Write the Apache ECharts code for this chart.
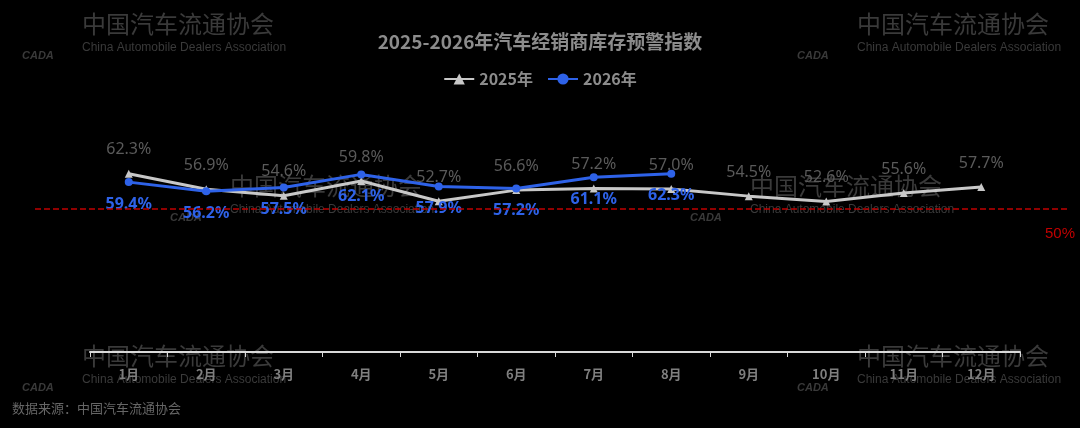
<!DOCTYPE html>
<html><head><meta charset="utf-8">
<script src="https://cdn.jsdelivr.net/npm/echarts@6/dist/echarts.min.js"></script>
<style>html,body{margin:0;background:#000}#c{width:1080px;height:428px}</style>
</head><body><div id="c"></div>
<script>
const categories=['1月','2月','3月','4月','5月','6月','7月','8月','9月','10月','11月','12月'];
const values2025=[62.3,56.9,54.6,59.8,52.7,56.6,57.2,57.0,54.5,52.6,55.6,57.7];
const values2026=[59.4,56.2,57.5,62.1,57.9,57.2,61.1,62.3];
const warnLine=50;
const wmSpots=[[22,8],[797,8],[690,170],[170,170],[22,340],[797,340]];
const graphics=[];
wmSpots.forEach(p=>{
  graphics.push({type:'text',left:p[0]+60,top:p[1]+4,z:-1,style:{text:'中国汽车流通协会',fill:'#3a3a3a',font:'24px "Noto Sans CJK SC"'}});
  graphics.push({type:'text',left:p[0]+60,top:p[1]+34,z:-1,style:{text:'China Automobile Dealers Association',fill:'#3a3a3a',font:'12px "Liberation Sans"'}});
  graphics.push({type:'text',left:p[0],top:p[1]+42,z:-1,style:{text:'CADA',fill:'#3a3a3a',font:'italic bold 11px "Liberation Sans"'}});
});
graphics.push({type:'text',left:12,top:402,style:{text:'数据来源：中国汽车流通协会',fill:'#666',font:'13px "Noto Sans CJK SC"'}});
const chart=echarts.init(document.getElementById('c'));
chart.setOption({
  backgroundColor:'#000',
  title:{text:'2025-2026年汽车经销商库存预警指数',left:'center',top:27,textStyle:{color:'#8c8c8c',fontSize:19,fontWeight:'bold',fontFamily:'Noto Sans CJK SC'}},
  legend:{top:66,left:'center',itemWidth:30,itemGap:14,textStyle:{color:'#8c8c8c',fontSize:16,fontWeight:'bold',fontFamily:'Noto Sans CJK SC'},data:['2025年','2026年']},
  graphic:graphics,
  grid:{left:90,right:60,top:66,bottom:76},
  xAxis:{type:'category',data:categories,boundaryGap:true,axisLine:{lineStyle:{color:'#d9d9d9',width:2}},axisTick:{show:true,lineStyle:{color:'#d9d9d9'}},axisLabel:{color:'#7f7f7f',fontSize:13,fontWeight:'bold',margin:16,fontFamily:'Noto Sans CJK SC'}},
  yAxis:{type:'value',min:0,max:100,show:false,splitLine:{show:false}},
  series:[
    {name:'2025年',type:'line',data:values2025,color:'#c8c8c8',symbol:'triangle',symbolSize:8,lineStyle:{width:3},
     label:{show:true,position:'top',distance:12,formatter:p=>p.value.toFixed(1)+'%',color:'#5a5a5a',fontSize:16,fontFamily:'Noto Sans'},
     markLine:{symbol:'none',silent:true,data:[[{x:35,yAxis:warnLine},{x:1070,yAxis:warnLine}]],lineStyle:{color:'#c00000',type:'dashed',width:1.5},label:{position:'end',formatter:'50%',color:'#c00000',fontSize:15,offset:[-30,25]}}},
    {name:'2026年',type:'line',data:values2026,color:'#2e62e8',symbol:'circle',symbolSize:8,lineStyle:{width:3},
     label:{show:true,position:'bottom',distance:10,formatter:p=>p.value.toFixed(1)+'%',color:'#2e62e8',fontSize:16,fontWeight:'bold',fontFamily:'Noto Sans'}}
  ]
});
</script></body></html>
